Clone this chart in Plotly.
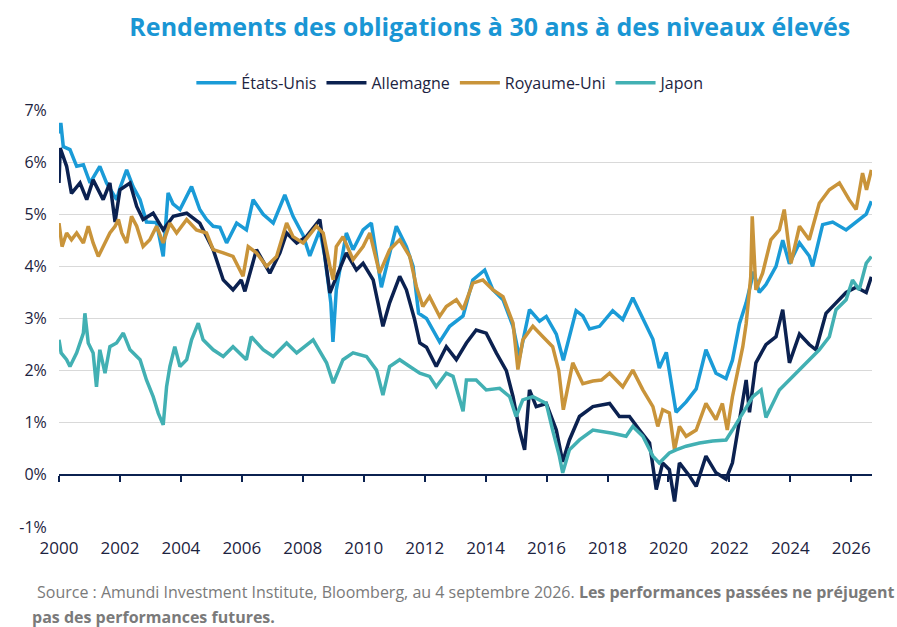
import plotly.graph_objects as go

# Rendements des obligations à 30 ans (%)
us_t = [2000.0, 2000.06, 2000.14, 2000.36, 2000.58, 2000.8, 2001.02, 2001.34, 2001.56, 2001.77, 2001.89,
        2002.0, 2002.22, 2002.43, 2002.66, 2002.87, 2003.2, 2003.42, 2003.58, 2003.74, 2003.97, 2004.35,
        2004.62, 2004.84, 2005.06, 2005.28, 2005.5, 2005.83, 2006.15, 2006.37, 2006.7, 2007.03, 2007.41,
        2007.68, 2008.01, 2008.23, 2008.56, 2008.72, 2008.92, 2008.99, 2009.1, 2009.43, 2009.65, 2009.98,
        2010.25, 2010.58, 2010.85, 2011.07, 2011.4, 2011.62, 2011.8, 2012.06, 2012.49, 2012.82, 2013.26,
        2013.58, 2013.97, 2014.24, 2014.57, 2014.9, 2015.11, 2015.44, 2015.77, 2015.99, 2016.32, 2016.55,
        2016.97, 2017.19, 2017.41, 2017.74, 2018.17, 2018.5, 2018.83, 2019.16, 2019.49, 2019.7, 2019.93,
        2020.25, 2020.58, 2020.91, 2021.23, 2021.56, 2021.89, 2022.1, 2022.33, 2022.55, 2022.8, 2022.98,
        2023.2, 2023.53, 2023.75, 2023.97, 2024.3, 2024.62, 2024.73, 2025.06, 2025.39, 2025.83, 2026.16,
        2026.49, 2026.66]
us_v = [6.55, 6.75, 6.3, 6.24, 5.92, 5.95, 5.6, 5.92, 5.6, 5.41, 5.28,
        5.5, 5.85, 5.53, 5.28, 4.85, 4.84, 4.19, 5.41, 5.2, 5.09, 5.53,
        5.09, 4.9, 4.77, 4.75, 4.45, 4.83, 4.7, 5.28, 5.0, 4.83, 5.37,
        4.96, 4.6, 4.2, 4.7, 4.2, 3.3, 2.55, 3.55, 4.64, 4.32, 4.7,
        4.83, 3.6, 4.26, 4.77, 4.38, 4.0, 3.1, 3.0, 2.55, 2.85, 3.05,
        3.74, 3.93, 3.55, 3.36, 2.85, 2.25, 3.17, 2.95, 3.04, 2.7, 2.2,
        3.15, 3.05, 2.8, 2.85, 3.15, 2.98, 3.4, 3.0, 2.6, 2.05, 2.35,
        1.2, 1.4, 1.65, 2.4, 1.95, 1.85, 2.2, 2.9, 3.3, 3.9, 3.5,
        3.65, 4.0, 4.5, 4.05, 4.45, 4.2, 4.0, 4.8, 4.85, 4.7, 4.85,
        5.0, 5.25]

de_t = [2000.0, 2000.04, 2000.25, 2000.41, 2000.69, 2000.91, 2001.12, 2001.45, 2001.67, 2001.84, 2002.0,
        2002.33, 2002.55, 2002.76, 2003.09, 2003.42, 2003.75, 2004.19, 2004.62, 2005.06, 2005.39, 2005.71,
        2005.98, 2006.1, 2006.48, 2006.92, 2007.25, 2007.47, 2007.8, 2008.12, 2008.56, 2008.89, 2009.0,
        2009.43, 2009.76, 2009.98, 2010.31, 2010.63, 2010.85, 2011.18, 2011.4, 2011.67, 2011.84, 2012.06,
        2012.38, 2012.71, 2013.04, 2013.37, 2013.69, 2014.02, 2014.35, 2014.68, 2014.9, 2015.11, 2015.28,
        2015.44, 2015.66, 2015.99, 2016.32, 2016.53, 2016.75, 2017.08, 2017.52, 2018.07, 2018.39, 2018.72,
        2019.05, 2019.38, 2019.6, 2019.81, 2020.03, 2020.2, 2020.36, 2020.69, 2020.91, 2021.23, 2021.56,
        2021.89, 2022.1, 2022.33, 2022.55, 2022.66, 2022.87, 2023.2, 2023.53, 2023.75, 2023.97, 2024.3,
        2024.62, 2024.84, 2025.17, 2025.5, 2025.83, 2026.16, 2026.49, 2026.66]
de_v = [5.6, 6.27, 5.92, 5.4, 5.6, 5.28, 5.66, 5.28, 5.6, 4.85, 5.47,
        5.6, 5.15, 4.9, 5.02, 4.7, 4.96, 5.02, 4.83, 4.32, 3.74, 3.55,
        3.74, 3.52, 4.32, 3.87, 4.26, 4.64, 4.45, 4.57, 4.9, 3.49, 3.65,
        4.26, 3.93, 4.06, 3.74, 2.85, 3.3, 3.81, 3.55, 2.98, 2.53, 2.45,
        2.08, 2.46, 2.21, 2.53, 2.78, 2.72, 2.34, 2.0, 1.5, 0.86, 0.48,
        1.63, 1.31, 1.37, 0.86, 0.25, 0.67, 1.12, 1.31, 1.37, 1.12, 1.12,
        0.86, 0.61, -0.28, 0.23, 0.1, -0.51, 0.23, -0.02, -0.22, 0.36, 0.04,
        -0.08, 0.23, 1.06, 1.82, 1.2, 2.15, 2.5, 2.65, 3.17, 2.15, 2.7,
        2.5, 2.4, 3.1, 3.3, 3.5, 3.6, 3.5, 3.8]

uk_t = [2000.0, 2000.1, 2000.25, 2000.41, 2000.58, 2000.8, 2000.96, 2001.12, 2001.29, 2001.45, 2001.67,
        2001.84, 2001.95, 2002.06, 2002.22, 2002.38, 2002.55, 2002.76, 2002.98, 2003.2, 2003.42, 2003.64,
        2003.86, 2004.19, 2004.51, 2004.84, 2005.06, 2005.39, 2005.71, 2006.04, 2006.21, 2006.48, 2006.81,
        2007.14, 2007.47, 2007.68, 2008.01, 2008.45, 2008.67, 2008.89, 2009.0, 2009.1, 2009.32, 2009.65,
        2009.98, 2010.2, 2010.52, 2010.85, 2011.18, 2011.51, 2011.73, 2011.94, 2012.16, 2012.49, 2012.71,
        2013.04, 2013.26, 2013.58, 2013.91, 2014.24, 2014.57, 2014.9, 2015.06, 2015.22, 2015.55, 2015.88,
        2016.2, 2016.4, 2016.55, 2016.86, 2017.19, 2017.52, 2017.8, 2018.07, 2018.5, 2018.83, 2019.16,
        2019.49, 2019.65, 2019.81, 2020.03, 2020.2, 2020.36, 2020.58, 2020.91, 2021.23, 2021.56, 2021.77,
        2021.93, 2022.1, 2022.44, 2022.55, 2022.7, 2022.75, 2022.87, 2023.09, 2023.36, 2023.64, 2023.8,
        2024.02, 2024.3, 2024.62, 2024.95, 2025.28, 2025.61, 2025.93, 2026.16, 2026.37, 2026.5, 2026.66]
uk_v = [4.83, 4.38, 4.64, 4.51, 4.64, 4.45, 4.77, 4.45, 4.19, 4.38, 4.64,
        4.77, 4.9, 4.64, 4.45, 4.96, 4.77, 4.38, 4.51, 4.77, 4.45, 4.83,
        4.64, 4.9, 4.7, 4.64, 4.32, 4.26, 4.19, 3.81, 4.38, 4.26, 4.0,
        4.19, 4.83, 4.57, 4.45, 4.77, 4.64, 4.0, 3.74, 4.38, 4.57, 4.13,
        4.38, 4.64, 3.87, 4.32, 4.51, 4.19, 3.61, 3.23, 3.42, 3.04, 3.23,
        3.36, 3.17, 3.68, 3.74, 3.55, 3.42, 2.91, 2.02, 2.59, 2.85, 2.65,
        2.46, 2.0, 1.25, 2.15, 1.75, 1.8, 1.82, 1.95, 1.69, 2.01, 1.63,
        1.31, 0.93, 1.25, 1.19, 0.48, 0.93, 0.74, 0.86, 1.37, 1.06, 1.37,
        0.86, 1.5, 2.46, 2.9, 3.8, 4.96, 3.55, 3.87, 4.51, 4.7, 5.09,
        4.06, 4.77, 4.51, 5.21, 5.47, 5.6, 5.28, 5.09, 5.79, 5.47, 5.85]

jp_t = [2000.0, 2000.07, 2000.25, 2000.36, 2000.58, 2000.8, 2000.85, 2000.96, 2001.12, 2001.23, 2001.34,
        2001.51, 2001.67, 2001.89, 2002.11, 2002.33, 2002.66, 2002.87, 2003.09, 2003.26, 2003.42, 2003.53,
        2003.64, 2003.8, 2003.97, 2004.19, 2004.35, 2004.57, 2004.73, 2005.06, 2005.39, 2005.71, 2006.15,
        2006.31, 2006.7, 2007.03, 2007.47, 2007.8, 2008.34, 2008.78, 2009.0, 2009.32, 2009.65, 2010.09,
        2010.42, 2010.63, 2010.85, 2011.18, 2011.51, 2011.84, 2012.16, 2012.38, 2012.71, 2012.93, 2013.26,
        2013.37, 2013.69, 2014.02, 2014.46, 2014.79, 2015.0, 2015.22, 2015.55, 2015.99, 2016.2, 2016.42,
        2016.53, 2016.75, 2017.08, 2017.52, 2018.17, 2018.61, 2018.83, 2019.16, 2019.49, 2019.7, 2020.03,
        2020.25, 2020.58, 2021.02, 2021.45, 2021.89, 2022.1, 2022.44, 2022.77, 2023.04, 2023.2, 2023.64,
        2023.97, 2024.3, 2024.62, 2024.95, 2025.28, 2025.5, 2025.83, 2026.04, 2026.26, 2026.49, 2026.66]
jp_v = [2.59, 2.34, 2.21, 2.08, 2.34, 2.72, 3.1, 2.53, 2.34, 1.69, 2.4,
        1.95, 2.46, 2.53, 2.72, 2.4, 2.21, 1.82, 1.5, 1.18, 0.96, 1.69,
        2.08, 2.46, 2.08, 2.21, 2.59, 2.91, 2.59, 2.4, 2.27, 2.46, 2.21,
        2.65, 2.4, 2.27, 2.53, 2.34, 2.59, 2.15, 1.76, 2.21, 2.34, 2.27,
        2.01, 1.53, 2.08, 2.21, 2.08, 1.95, 1.89, 1.69, 1.95, 1.89, 1.22,
        1.82, 1.82, 1.63, 1.66, 1.5, 1.12, 1.44, 1.5, 1.37, 0.86, 0.36,
        0.04, 0.48, 0.67, 0.86, 0.8, 0.74, 0.93, 0.74, 0.36, 0.23, 0.42,
        0.48, 0.55, 0.61, 0.65, 0.67, 0.86, 1.18, 1.5, 1.63, 1.1, 1.63,
        1.82, 2.01, 2.21, 2.4, 2.65, 3.17, 3.36, 3.74, 3.55, 4.06, 4.19]

series = [
    ("États-Unis", us_t, us_v, "#1a9bd7"),
    ("Allemagne", de_t, de_v, "#0b2150"),
    ("Royaume-Uni", uk_t, uk_v, "#c9943a"),
    ("Japon", jp_t, jp_v, "#42b0b3"),
]

x_ticks = list(range(2000, 2027, 2))
y_ticks = list(range(-1, 8))
y_labels = [f"{v}%" for v in y_ticks]

fig = go.Figure()
for nom, t, v, couleur in series:
    fig.add_trace(go.Scatter(x=t, y=v, name=nom, mode="lines",
                             line=dict(color=couleur, width=3.5)))

# trace invisible pour afficher l'axe x2 (ligne du zéro)
fig.add_trace(go.Scatter(x=[2000], y=[0], xaxis="x2", mode="markers",
                         marker=dict(opacity=0), showlegend=False, hoverinfo="skip"))

fig.update_layout(
    width=897, height=627,
    margin=dict(l=59, r=25, t=110, b=100),
    paper_bgcolor="white", plot_bgcolor="white",
    font=dict(family="Open Sans", color="#1c2340"),
    title=dict(text="<b>Rendements des obligations à 30 ans à des niveaux élevés</b>",
               x=0.546, xanchor="center", y=0.957, yanchor="middle",
               font=dict(size=25, color="#1a96d4", family="Open Sans")),
    legend=dict(orientation="h", x=0.482, xanchor="center", y=1.065, yanchor="middle",
                font=dict(size=16, color="#1c2340"), itemwidth=40, tracegroupgap=0),
    xaxis=dict(range=[2000, 2026.68], tickvals=x_ticks, showgrid=False, zeroline=False,
               showline=False, ticks="outside", ticklen=6, tickcolor="rgba(0,0,0,0)",
               tickfont=dict(size=17, color="#1c2340")),
    xaxis2=dict(range=[2000, 2026.68], overlaying="x", anchor="free", position=0.125,
                tickvals=x_ticks, showticklabels=False, showgrid=False, zeroline=False,
                showline=True, linecolor="#0b2150", linewidth=2,
                ticks="outside", ticklen=6, tickcolor="#0b2150", tickwidth=2),
    yaxis=dict(range=[-1, 7], tickvals=y_ticks, ticktext=y_labels, showgrid=True,
               gridcolor="#d9d9d9", gridwidth=1, zeroline=False, showline=False,
               tickfont=dict(size=16, color="#1c2340"), ticks="outside", ticklen=8,
               tickcolor="rgba(0,0,0,0)"),
)

fig.add_annotation(
    text="Source : Amundi Investment Institute, Bloomberg, au 4 septembre 2026. "
         "<b>Les performances passées ne préjugent</b>",
    xref="paper", yref="paper", x=-0.029, y=-0.156, xanchor="left", yanchor="middle",
    showarrow=False, font=dict(size=16, color="#7a7a7a", family="Open Sans"))
fig.add_annotation(
    text="<b>pas des performances futures.</b>",
    xref="paper", yref="paper", x=-0.036, y=-0.216, xanchor="left", yanchor="middle",
    showarrow=False, font=dict(size=16, color="#7a7a7a", family="Open Sans"))

fig.write_html("out.html", config={"displayModeBar": False},
               post_script="document.body.style.margin='0';")
